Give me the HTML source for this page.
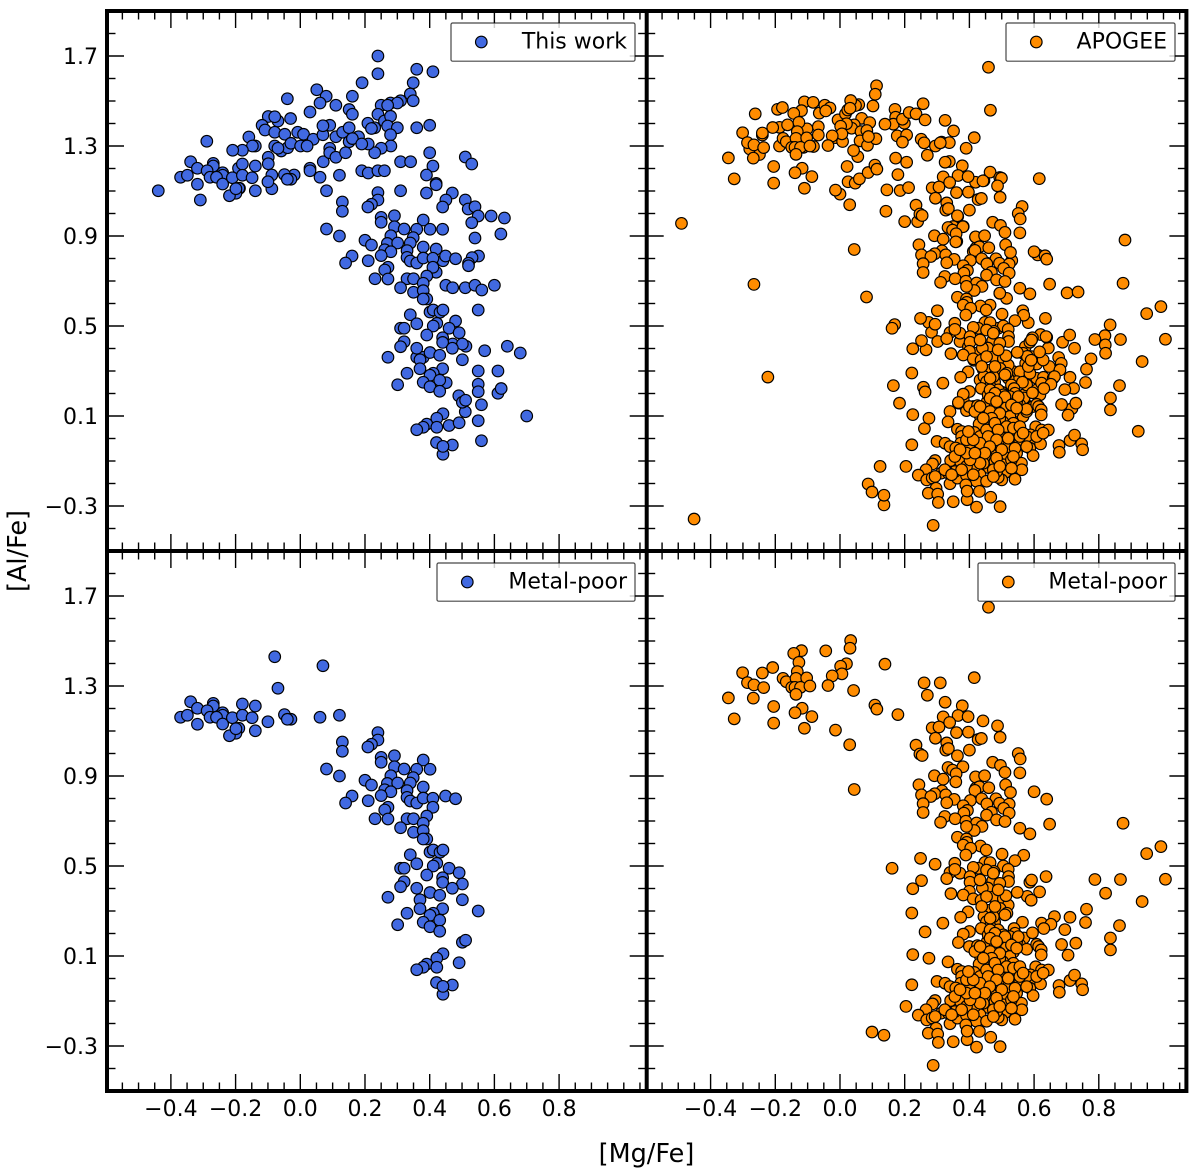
<!DOCTYPE html>
<html lang="en">
<head>
<meta charset="utf-8">
<title>[Al/Fe] vs [Mg/Fe]</title>
<style>
html,body{margin:0;padding:0;background:#fff;}
svg{display:block;font-family:"DejaVu Sans","Liberation Sans",sans-serif;}
</style>
</head>
<body>
<svg id="figure" xmlns="http://www.w3.org/2000/svg" width="1200" height="1175" viewBox="0 0 1200 1175">
<rect x="0" y="0" width="1200" height="1175" fill="#fff"/>
<text x="646.5" y="1162" font-size="25.5" text-anchor="middle" fill="#000">[Mg/Fe]</text>
<text x="0" y="0" transform="translate(26,551) rotate(-90)" font-size="25.5" text-anchor="middle" fill="#000">[Al/Fe]</text>
</svg>
<script>
const xTickValues = [-0.4, -0.2, 0.0, 0.2, 0.4, 0.6, 0.8];
const xTickLabels = ["\u22120.4", "\u22120.2", "0.0", "0.2", "0.4", "0.6", "0.8"];
const yTickValues = [1.7, 1.3, 0.9, 0.5, 0.1, -0.3];
const yTickLabels = ["1.7", "1.3", "0.9", "0.5", "0.1", "\u22120.3"];

const workMetalPoorMg = [
-.079,.070,-.069,-.339,-.318,-.269,-.269,-.288,-.370,-.349,
-.318,-.279,-.240,-.240,-.259,-.240,-.210,-.179,-.139,-.179,
-.149,-.190,-.199,-.219,-.199,-.139,-.100,-.049,-.029,-.040,
.061,.121,.240,.240,.220,.209,.130,.130,.081,.121,
.250,.250,.291,.291,.321,.380,.360,.401,.200,.220,
.280,.349,.269,.301,.340,.261,.280,.250,.330,.380,
.330,.160,.140,.210,.340,.360,.380,.410,.449,.480,
.410,.271,.261,.231,.271,.330,.350,.391,.380,.310,
.350,.380,.391,.380,.340,.401,.411,.432,.441,.360,
.310,.321,.422,.411,.391,.460,.491,.440,.440,.321,
.310,.501,.470,.360,.401,.431,.370,.501,.271,.550,
.370,.440,.411,.330,.401,.431,.380,.301,.401,.431,
.501,.511,.441,.422,.391,.380,.360,.422,.491,.421,
.470,.441,.441];
const workMetalPoorAl = [
1.430,1.390,1.290,1.230,1.201,1.223,1.211,1.190,1.161,1.170,
1.130,1.161,1.181,1.170,1.161,1.131,1.159,1.220,1.211,1.170,
1.159,1.112,1.090,1.079,1.110,1.101,1.141,1.173,1.152,1.152,
1.161,1.170,1.093,1.060,1.041,1.029,1.051,1.010,.931,.900,
.983,.961,.990,.941,.931,.971,.930,.930,.881,.860,
.901,.893,.867,.869,.869,.839,.830,.813,.835,.851,
.805,.811,.780,.790,.789,.780,.802,.801,.811,.799,
.761,.761,.749,.710,.709,.710,.710,.722,.690,.670,
.650,.657,.620,.620,.550,.562,.571,.561,.571,.510,
.490,.490,.512,.500,.460,.490,.470,.448,.427,.430,
.408,.420,.401,.401,.382,.370,.350,.350,.361,.300,
.310,.310,.290,.290,.281,.259,.250,.239,.230,.210,
.161,.170,.110,.090,.064,.050,.039,.050,.070,-.018,
-.029,-.070,-.035];

const workOtherMg = [
-.439,-.309,.240,.360,.410,.240,.191,.349,-.040,.051,
.080,.161,.061,.110,.340,.349,.310,.279,.300,.250,
.270,.030,.151,.161,-.030,-.099,-.069,-.118,-.109,-.079,
-.048,-.008,.010,.040,.091,.070,.110,.131,.151,.151,
.180,.161,.209,.240,.230,.220,.260,.279,.270,.300,
.279,.280,.250,.230,.210,.190,.360,.400,.400,.310,
.341,.410,.390,.420,.310,.390,.190,.210,.240,.260,
.030,.030,.071,.091,.091,.110,.140,-.289,-.159,-.139,
-.148,-.179,-.209,-.079,-.059,-.039,-.029,.001,.021,-.099,
-.099,-.088,-.088,-.019,.081,-.191,-.188,.540,.620,.420,
.551,.531,.520,.520,.441,.420,.450,.471,.510,.540,
.561,.600,.550,.480,.512,.471,.570,.640,.680,.360,
.380,.611,.550,.550,.611,.621,.490,.510,.560,.700,
.550,.460,.560,.451,.420,.510,.530,.470,.450,.440,
.510,.519,.540,.550,.590,.631,.530,.440];
const workOtherAl = [
1.101,1.060,1.700,1.641,1.630,1.621,1.581,1.581,1.510,1.550,
1.521,1.521,1.491,1.481,1.531,1.501,1.501,1.491,1.491,1.481,
1.481,1.451,1.462,1.441,1.422,1.431,1.411,1.392,1.371,1.361,
1.352,1.361,1.352,1.330,1.392,1.350,1.341,1.361,1.381,1.319,
1.341,1.333,1.401,1.441,1.381,1.378,1.411,1.432,1.389,1.381,
1.350,1.300,1.290,1.270,1.309,1.309,1.381,1.392,1.270,1.230,
1.230,1.211,1.171,1.134,1.101,1.091,1.190,1.180,1.190,1.190,
1.201,1.190,1.230,1.290,1.270,1.250,1.270,1.321,1.340,1.300,
1.300,1.281,1.281,1.300,1.278,1.292,1.312,1.300,1.300,1.250,
1.221,1.171,1.110,1.171,1.101,1.201,1.112,.891,.909,.842,
.811,.804,.779,.768,.790,.739,.681,.670,.670,.681,
.660,.681,.571,.522,.410,.420,.390,.410,.380,.361,
.361,.300,.241,.208,.201,.222,.190,.119,.150,.100,
.079,.058,-.010,.248,1.128,1.251,1.220,1.091,1.060,1.029,
1.060,1.020,1.030,.989,.989,.980,.959,.930];

const apogeeMetalPoorMg = [
.459,.033,.031,-.119,-.143,-.044,-.127,.020,.002,.139,
-.208,-.240,-.301,-.132,-.176,-.166,-.136,-.103,-.286,-.266,
-.236,-.149,-.139,-.122,-.093,-.136,.006,-.024,-.037,.042,
-.345,-.268,-.205,-.117,-.139,-.087,-.327,-.205,-.110,-.014,
.030,.044,.108,.114,.179,.260,.310,.415,.270,.325,
.378,.365,.396,.319,.442,.487,.339,.285,.306,.360,
.397,.427,.437,.495,.295,.330,.327,.335,.400,.235,
.247,.254,.363,.551,.557,.472,.496,.510,.556,.334,
.348,.380,.359,.292,.319,.419,.447,.358,.244,.512,
.527,.600,.639,.420,.431,.460,.417,.315,.293,.252,
.281,.327,.353,.330,.403,.438,.482,.454,.493,.523,
.506,.523,.381,.394,.383,.468,.453,.257,.257,.324,
.311,.356,.389,.422,.439,.415,.391,.484,.510,.556,
.587,.648,.363,.391,.875,.099,
.392,.381,.434,.452,.404,.389,.501,.568,.249,.294,
.161,.355,.448,.464,.541,.505,.520,.427,.412,.476,
.340,.371,.355,.252,.225,.330,.402,.402,.472,.521,
.521,.587,.592,.637,.788,.867,1.006,.992,.948,.821,
.934,.762,.663,.711,.623,.652,.630,.564,.759,.695,
.864,.836,.836,.685,.729,.705,.617,.579,.591,.548,
.457,.440,.400,.343,.381,.412,.436,.474,.505,.520,
.513,.459,.495,.516,.222,.396,.373,.318,.263,.445,
.453,.478,.464,.437,.400,.381,.366,.400,.425,.455,
.491,.538,.541,.569,.595,.556,.577,.515,.479,.536,
.525,.608,.614,.622,.622,.433,.474,.503,.450,.430,
.334,.225,.275,.363,.376,.415,.376,.474,.551,.525,
.605,.623,.644,.544,.538,.556,.515,.589,.589,.587,
.620,.597,.677,.678,.711,.725,.747,.750,.300,.325,
.222,.373,.340,.358,.444,.400,.476,.427,.515,.546,
.476,.453,.294,.286,.342,.373,.408,.459,.507,.561,
.562,.511,.541,.500,.489,.204,.266,.242,.268,.285,
.313,.340,.363,.391,.433,.422,.453,.389,.297,.273,
.302,.304,.350,.393,.393,.431,.466,.422,.495,.288,
.136,.469,.494,.433,.391,.453,.505,.520,.433,.417,
.479,.443,.530,.484,.391,.355,.335,.577,.536,.489,
.525,.546,.494,.453,.417,.464,.489,.474,.505,.458,
.433,
.464,.479,.510,.551,.464,.484,.530,.546,.494,.469,
.443,.479,.515,.536,.556,.489,.458,.520,.556,.484,
.433,.412,.463,.500,.541,.448,.484,.536,.433,.474,
.494,.530,.412,.474,.376,.402,.355,.391,.371,.417,
.324,.294,.345,.566,.577,.608,.628,.397,
.453,.474,.494,.433,.489,.453,.479,.510,.438,.464];
const apogeeMetalPoorAl = [
1.650,1.502,1.468,1.457,1.445,1.456,1.405,1.399,1.388,1.397,
1.382,1.358,1.359,1.364,1.334,1.319,1.334,1.336,1.315,1.305,
1.293,1.294,1.294,1.294,1.300,1.263,1.354,1.345,1.302,1.280,
1.247,1.246,1.209,1.201,1.181,1.164,1.154,1.135,1.112,1.104,
1.039,.840,1.215,1.197,1.173,1.314,1.314,1.337,1.259,1.228,
1.212,1.169,1.164,1.163,1.145,1.123,1.138,1.114,1.118,1.093,
1.095,1.062,1.067,1.072,1.068,1.047,1.015,1.022,1.015,1.037,
.998,.991,.990,1.000,.976,.961,.947,.916,.914,.938,
.926,.941,.910,.901,.886,.896,.901,.874,.861,.861,
.827,.830,.797,.846,.852,.848,.836,.834,.821,.816,
.809,.816,.796,.781,.791,.799,.799,.776,.779,.775,
.756,.735,.768,.747,.735,.739,.726,.777,.738,.720,
.694,.710,.699,.691,.676,.658,.676,.705,.698,.668,
.643,.686,.628,.620,.690,-.238,
.605,.593,.589,.571,.579,.549,.553,.548,.534,.508,
.490,.512,.516,.515,.524,.500,.485,.490,.494,.476,
.471,.468,.485,.435,.399,.444,.453,.428,.435,.453,
.431,.428,.438,.453,.440,.440,.441,.586,.555,.379,
.342,.308,.275,.272,.246,.241,.222,.250,.249,.217,
.235,.180,.127,.151,.157,.104,.385,.365,.348,.383,
.402,.402,.388,.377,.371,.354,.348,.363,.355,.326,
.368,.303,.311,.290,.291,.296,.272,.246,.207,.275,
.253,.250,.231,.223,.209,.197,.160,.142,.146,.164,
.209,.222,.201,.180,.203,.149,.130,.145,.139,.117,
.098,.152,.142,.127,.105,.101,.105,.075,.061,.064,
.074,.106,.090,.041,.031,.027,.009,.031,.053,.035,
.052,.038,.038,.027,-.013,-.013,.009,.016,-.013,-.043,
-.024,-.076,-.031,-.061,-.009,.015,-.024,-.050,-.013,-.021,
-.028,-.021,-.036,-.042,-.016,-.047,-.043,-.080,-.070,-.065,
-.073,-.080,-.098,-.113,-.098,-.104,-.124,-.129,-.117,-.110,
-.139,-.151,-.181,-.184,-.173,-.124,-.139,-.163,-.184,-.175,
-.154,-.201,-.176,-.164,-.161,-.190,-.190,-.206,-.221,-.243,
-.247,-.284,-.281,-.272,-.234,-.235,-.261,-.305,-.303,-.386,
-.252,-.013,-.036,.009,-.006,.038,.001,-.036,-.050,-.124,
-.102,-.110,-.095,-.147,-.124,-.147,-.154,.009,.068,.172,
.186,.164,.090,.105,.120,.120,.216,.275,.194,.194,
.142,
.216,.201,.186,.186,.179,.164,.149,.135,.112,.090,
.090,.068,.053,.046,.053,.038,.009,.001,.009,-.006,
-.021,-.006,-.036,-.050,-.043,-.065,-.087,-.080,-.110,-.139,
-.124,-.132,-.161,-.169,-.139,-.095,-.080,-.065,-.050,-.065,
-.139,-.169,-.161,.024,-.036,.009,.024,.031,
.482,.468,.423,.438,.394,.364,.320,.283,.320,.268];

const apogeeOtherMg = [
.301,.274,.169,.283,.302,.266,.165,.258,.184,.261,
.124,.136,.635,.582,.565,.494,.515,.464,.688,.710,
.725,.644,.620,.595,.639,.573,.616,.676,.684,.678,
.647,.608,.629,.722,.776,.819,.820,.835,.717,.922,
.608,.574,.536,.500,.572,.379,.340,.391,.396,.371,
.484,.433,.414,.489,.087,-.223,-.451,.881,.702,.736,
-.490,-.262,-.279,-.249,-.240,-.187,-.162,-.193,-.178,-.110,
-.083,-.102,-.067,-.067,-.187,-.113,-.082,-.064,-.047,-.031,
-.014,-.006,.008,.017,.024,.058,.048,.102,.113,.109,
.067,.092,.044,.036,.065,.083,.062,.085,.111,.088,
.055,.022,.025,.047,.060,.087,.000,.172,.206,.170,
.172,.165,.199,.193,.177,.206,.193,.214,.235,.257,
.263,.251,.325,.351,.295,.314,.338,.390,.338,.465,
.419,.445,.464,.494,.499,.616,.142,.145,.186,.212,
.200,.240,.563,.531,.611,.634,-.266,.082,.494,.453,
.386,.412,.419,.364,.350,.381,.361,
.566,.592,.628,.556,.587,.546,.577,.608,.618,.572,
.433,.458,.443,.484,.520,.530,.366,.433,.397,.422,
.582,.659,.680,.381,.412,.566,.597,.577];
const apogeeOtherAl = [
.568,.516,.506,.472,.431,.394,.235,.228,.157,.044,
-.124,-.295,.534,.515,.568,.645,.623,.593,.428,.460,
.401,.402,.462,.448,.450,.408,.376,.360,.334,.305,
.320,.268,.272,.223,.354,.457,.416,.505,.133,.032,
.331,.334,.297,.206,.197,.154,.120,.124,.426,.431,
.389,.346,.348,.490,-.202,.273,-.358,.882,.647,.651,
.956,1.443,1.287,1.262,1.349,1.383,1.394,1.463,1.471,1.496,
1.494,1.376,1.386,1.349,1.300,1.294,1.298,1.446,1.481,1.469,
1.337,1.416,1.320,1.443,1.460,1.484,1.480,1.478,1.568,1.530,
1.423,1.404,1.394,1.379,1.364,1.369,1.323,1.303,1.332,1.342,
1.253,1.209,1.141,1.135,1.154,1.182,1.086,1.246,1.228,1.463,
1.428,1.397,1.401,1.419,1.345,1.349,1.317,1.449,1.443,1.488,
1.416,1.330,1.414,1.367,1.300,1.317,1.315,1.290,1.231,1.459,
1.139,1.146,1.184,1.160,1.157,1.155,1.010,1.105,1.102,1.115,
.964,.964,1.031,.791,.816,.812,.685,.629,.646,.780,
.750,.831,.895,.987,.942,.942,.876,
.379,.364,.349,.297,.290,.253,.238,.216,.194,.157,
.260,.290,.305,.297,.268,.238,.157,.105,.408,.379,
.320,.268,.305,.172,.142,.098,.142,.120];

const NS = 'http://www.w3.org/2000/svg';
const svg = document.getElementById('figure');
const X_PER_UNIT = 323.5;
const Y_PER_UNIT = 225;
const BLUE = '#4169e1';
const ORANGE = '#ff8c00';

function make(tag, attrs, parent) {
  const el = document.createElementNS(NS, tag);
  for (const k in attrs) el.setAttribute(k, attrs[k]);
  parent.appendChild(el);
  return el;
}

function drawTick(parent, x1, y1, x2, y2, name) {
  const t = make('line', {x1: x1, y1: y1, x2: x2, y2: y2, stroke: '#000', 'stroke-width': 1.4}, parent);
  
  
}

function drawPanel(p) {
  const g = make('g', {}, svg);
  
  
  const xScale = v => p.left + (v + 0.5975) * X_PER_UNIT;
  const yScale = v => p.top + (1.9 - v) * Y_PER_UNIT;

  const points = make('g', {}, g);
  
  
  p.series.forEach(s => {
    s.mg.forEach((m, i) => {
      const c = make('circle', {cx: xScale(m), cy: yScale(s.al[i]), r: 5.8, fill: p.color, stroke: '#000', 'stroke-width': 1.15}, points);
      
      
    });
  });

  const ticks = make('g', {}, g);
  
  
  const right = p.left + 539.7;
  const bottom = p.top + 540;
  for (let k = -11; k <= 21; k++) {
    const v = k * 0.05;
    const major = xTickValues.some(t => Math.abs(t - v) < 1e-6);
    const len = major ? 17 : 8.5;
    const x = xScale(v);
    drawTick(ticks, x, p.top, x, p.top + len, 'x-tick-top');
    drawTick(ticks, x, bottom, x, bottom - len, 'x-tick-bottom');
  }
  for (let k = -4; k <= 18; k++) {
    const v = k * 0.1;
    const major = yTickValues.some(t => Math.abs(t - v) < 1e-6);
    const len = major ? 17 : 8.5;
    const y = yScale(v);
    drawTick(ticks, p.left, y, p.left + len, y, 'y-tick-left');
    drawTick(ticks, right, y, right - len, y, 'y-tick-right');
  }

  if (p.showX) {
    xTickValues.forEach((v, i) => {
      const t = make('text', {x: xScale(v), y: 1116, 'font-size': 22, 'text-anchor': 'middle', fill: '#000'}, g);
      t.textContent = xTickLabels[i];
      
      
    });
  }
  if (p.showY) {
    yTickValues.forEach((v, i) => {
      const t = make('text', {x: 98, y: yScale(v) + 8, 'font-size': 22, 'text-anchor': 'end', fill: '#000'}, g);
      t.textContent = yTickLabels[i];
      
      
    });
  }

  const lg = make('g', {}, g);
  
  
  const box = make('rect', {x: p.legX, y: p.top + 12, width: p.legW, height: 38.2, rx: 1.6, fill: 'rgba(255,255,255,0.8)', stroke: 'rgba(0,0,0,0.72)', 'stroke-width': 1.2}, lg);
  
  
  const mark = make('circle', {cx: p.legX + 30.3, cy: p.top + 31, r: 5.8, fill: p.color, stroke: '#000', 'stroke-width': 1.15}, lg);
  
  
  const lab = make('text', {x: p.legX + p.legW - 8, y: p.top + 37.5, 'font-size': 22, 'text-anchor': 'end', fill: '#000'}, lg);
  lab.textContent = p.label;
  
  
}

drawPanel({name: 'panel-this-work', left: 107, top: 11, color: BLUE, label: 'This work', legX: 451, legW: 184, showX: false, showY: true,
  series: [{mg: workOtherMg, al: workOtherAl}, {mg: workMetalPoorMg, al: workMetalPoorAl}]});
drawPanel({name: 'panel-apogee', left: 646.7, top: 11, color: ORANGE, label: 'APOGEE', legX: 1006, legW: 169, showX: false, showY: false,
  series: [{mg: apogeeOtherMg, al: apogeeOtherAl}, {mg: apogeeMetalPoorMg, al: apogeeMetalPoorAl}]});
drawPanel({name: 'panel-work-metal-poor', left: 107, top: 551, color: BLUE, label: 'Metal-poor', legX: 437, legW: 198, showX: true, showY: true,
  series: [{mg: workMetalPoorMg, al: workMetalPoorAl}]});
drawPanel({name: 'panel-apogee-metal-poor', left: 646.7, top: 551, color: ORANGE, label: 'Metal-poor', legX: 978, legW: 197, showX: true, showY: false,
  series: [{mg: apogeeMetalPoorMg, al: apogeeMetalPoorAl}]});

const spines = make('g', {fill: 'none', stroke: '#000', 'stroke-width': 4}, svg);


const outer = make('rect', {x: 107, y: 11, width: 1079.4, height: 1080}, spines);


const vDivider = make('line', {x1: 646.7, y1: 11, x2: 646.7, y2: 1091}, spines);


const hDivider = make('line', {x1: 107, y1: 551, x2: 1186.4, y2: 551}, spines);


</script>
</body>
</html>
